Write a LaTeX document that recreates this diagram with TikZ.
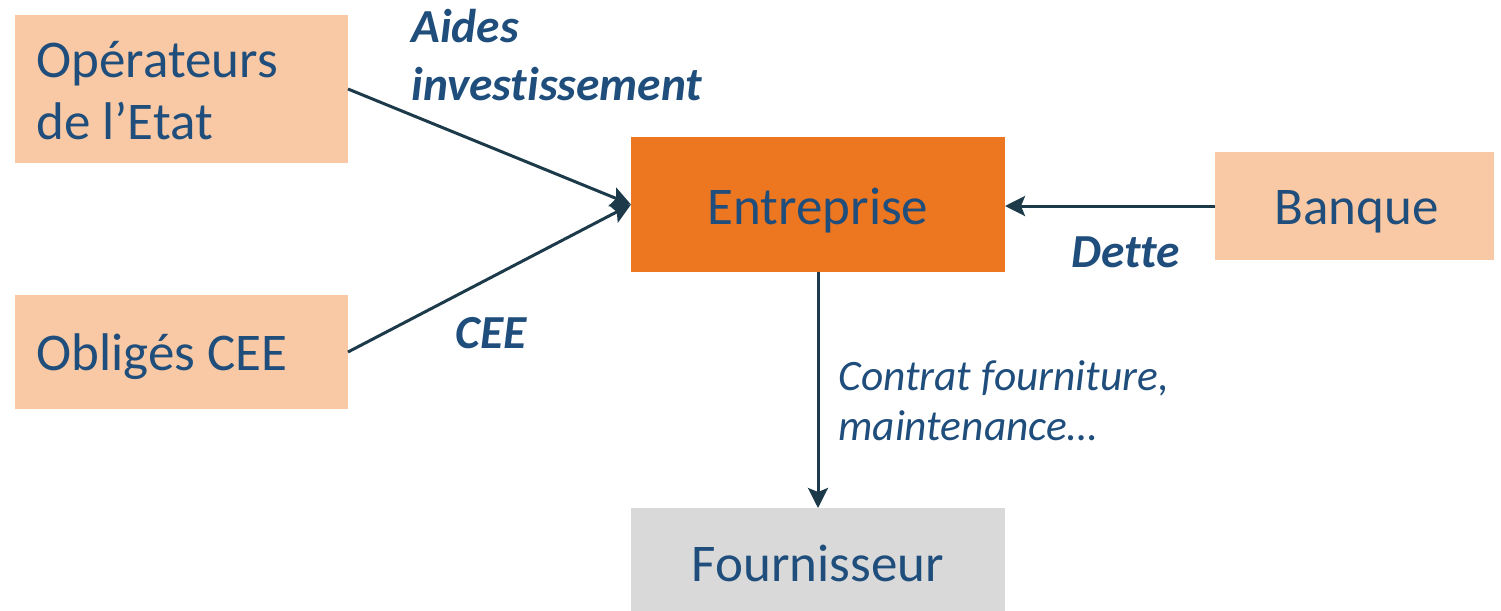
\documentclass[tikz,border=0pt]{standalone}
\usepackage{fontspec}
\setmainfont{Carlito}[RawFeature={-liga;-clig;-dlig;-calt;-hlig}]
\usetikzlibrary{fit,arrows.meta}
\definecolor{peach}{HTML}{F8C9A4}
\definecolor{orng}{HTML}{ED7620}
\definecolor{grayb}{HTML}{D9D9D9}
\definecolor{txtblue}{HTML}{1F4E7C}
\definecolor{arrc}{HTML}{1C3A4A}
\tikzset{
  box/.style={draw=none, inner sep=0pt, outer sep=0pt},
  boxtxt/.style={text=txtblue, inner sep=0pt, font=\fontsize{26.5pt}{31.5pt}\selectfont},
  lbl/.style={text=txtblue, inner sep=0pt, font=\fontsize{23.7pt}{29pt}\selectfont\bfseries\itshape},
  lbli/.style={text=txtblue, inner sep=0pt, font=\fontsize{21.7pt}{25pt}\selectfont\itshape},
  arr/.style={draw=arrc, line width=1.5pt, -{Stealth[length=10pt,width=10pt,inset=2pt]}}
}
\begin{document}
\begin{tikzpicture}[x=0.5pt,y=-0.5pt]
\useasboundingbox (0,0) rectangle (1501,611);
\node[box, fill=peach, fit={(15,15)(348,163)}] (ops) {};
\node[box, fill=peach, fit={(15,295)(348,409)}] (obl) {};
\node[box, fill=orng, fit={(631,137)(1005,272)}] (ent) {};
\node[box, fill=peach, fit={(1215,152)(1494,260)}] (bq) {};
\node[box, fill=grayb, fit={(631,508)(1005,611)}] (four) {};

\node[boxtxt, anchor=base west] (topsa) at (36,77) {Opérateurs};
\node[boxtxt, anchor=base west] (topsb) at (36,139) {de l’Etat};
\node[boxtxt, anchor=base west] (tobl) at (36,370) {Obligés CEE};
\node[boxtxt, anchor=base] (tent) at (818,224) {Entreprise};
\node[boxtxt, anchor=base west] (tbq) at (1274,224) {Banque};
\node[boxtxt, anchor=base] (tfour) at (818,581) {Fournisseur};

\node[lbl, anchor=base west] (la) at (411,42) {Aides};
\node[lbl, anchor=base west] (lb) at (411,100) {investissement};
\node[lbl, anchor=base west] (lcee) at (455,348) {CEE};
\node[lbl, anchor=base west] (ldette) at (1071,267) {Dette};
\node[lbli, anchor=base west] (lc1) at (838,390) {Contrat fourniture,};
\node[lbli, anchor=base west] (lc2) at (838,440) {maintenance…};

\draw[arr] (ops.east) -- (ent.west);
\draw[arr] (obl.east) -- (ent.west);
\draw[arr] (bq.west) -- (ent.east |- bq.west);
\draw[arr] (ent.south) -- (four.north);
\end{tikzpicture}
\end{document}
